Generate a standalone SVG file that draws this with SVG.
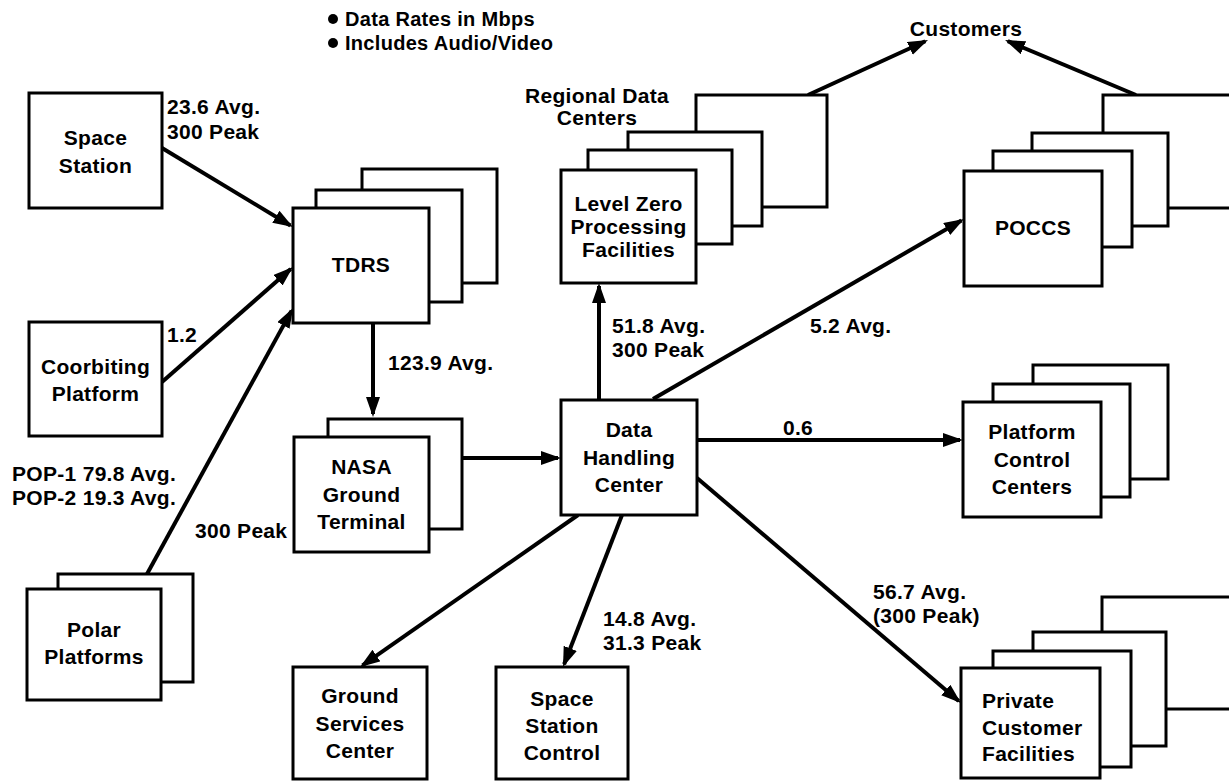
<svg xmlns="http://www.w3.org/2000/svg" width="1229" height="781" viewBox="0 0 1229 781">
<style>
.b{fill:#fff;stroke:#000;stroke-width:3}
.t{font-family:"Liberation Sans",Arial,sans-serif;font-weight:bold;font-size:21px;fill:#000;letter-spacing:0.3px}
.m{text-anchor:middle}
.c{fill:none;stroke:#000;stroke-width:4}
</style>
<defs>
<marker id="ah" markerUnits="userSpaceOnUse" markerWidth="22" markerHeight="16" refX="17" refY="7" orient="auto">
<path d="M0,0 L20,7 L0,14 z" fill="#000"/>
</marker>
</defs>
<rect width="1229" height="781" fill="#fff"/>

<g id="legend">
<circle cx="333" cy="19" r="5"/>
<text class="t" x="345" y="26" style="font-size:20px">Data Rates in Mbps</text>
<circle cx="333" cy="43" r="5"/>
<text class="t" x="345" y="50" style="font-size:20px">Includes Audio/Video</text>
</g>

<g id="connectors">
<line class="c" x1="162" y1="148" x2="290.4" y2="225.5" marker-end="url(#ah)"/>
<line class="c" x1="162" y1="382" x2="290.7" y2="269" marker-end="url(#ah)"/>
<line class="c" x1="147" y1="574" x2="291.6" y2="310.6" marker-end="url(#ah)"/>
<line class="c" x1="373" y1="323" x2="373" y2="414" marker-end="url(#ah)"/>
<line class="c" x1="462" y1="458" x2="558" y2="458" marker-end="url(#ah)"/>
<line class="c" x1="599" y1="400" x2="599" y2="286" marker-end="url(#ah)"/>
<line class="c" x1="653" y1="399" x2="961.4" y2="220.5" marker-end="url(#ah)"/>
<line class="c" x1="697" y1="440" x2="960" y2="440" marker-end="url(#ah)"/>
<line class="c" x1="697" y1="478" x2="958.7" y2="701" marker-end="url(#ah)"/>
<line class="c" x1="578" y1="515" x2="362.5" y2="665.3" marker-end="url(#ah)"/>
<line class="c" x1="622" y1="515" x2="564.1" y2="664.2" marker-end="url(#ah)"/>
<line class="c" x1="808" y1="95" x2="925.3" y2="41.3" marker-end="url(#ah)"/>
<line class="c" x1="1136" y1="95" x2="1007.8" y2="41.2" marker-end="url(#ah)"/>
</g>

<g id="edge-labels">
<text class="t" x="167" y="114">23.6 Avg.</text>
<text class="t" x="167" y="139">300 Peak</text>
<text class="t" x="167" y="342">1.2</text>
<text class="t" x="12" y="481">POP-1 79.8 Avg.</text>
<text class="t" x="12" y="505">POP-2 19.3 Avg.</text>
<text class="t" x="195" y="538">300 Peak</text>
<text class="t" x="388" y="370">123.9 Avg.</text>
<text class="t" x="612" y="333">51.8 Avg.</text>
<text class="t" x="612" y="357">300 Peak</text>
<text class="t" x="810" y="333">5.2 Avg.</text>
<text class="t" x="783" y="435">0.6</text>
<text class="t" x="873" y="599">56.7 Avg.</text>
<text class="t" x="873" y="623">(300 Peak)</text>
<text class="t" x="603" y="626">14.8 Avg.</text>
<text class="t" x="603" y="650">31.3 Peak</text>
</g>

<g id="customers">
<text class="t m" x="966" y="36">Customers</text>
</g>

<g id="space-station">
<rect class="b" x="29" y="93" width="133" height="115"/>
<text class="t m" x="95.5" y="145">Space</text>
<text class="t m" x="95.5" y="173">Station</text>
</g>

<g id="coorbiting-platform">
<rect class="b" x="29" y="322" width="133" height="114"/>
<text class="t m" x="95.5" y="374">Coorbiting</text>
<text class="t m" x="95.5" y="401">Platform</text>
</g>

<g id="polar-platforms">
<rect class="b" x="58" y="574" width="135" height="108"/>
<rect class="b" x="27" y="589" width="134" height="111"/>
<text class="t m" x="94" y="637">Polar</text>
<text class="t m" x="94" y="664">Platforms</text>
</g>

<g id="tdrs">
<rect class="b" x="362" y="169" width="135" height="114"/>
<rect class="b" x="316" y="190" width="146" height="112"/>
<rect class="b" x="293" y="208" width="136" height="115"/>
<text class="t m" x="361" y="272">TDRS</text>
</g>

<g id="nasa-ground-terminal">
<rect class="b" x="328" y="419" width="134" height="110"/>
<rect class="b" x="294" y="437" width="135" height="115"/>
<text class="t m" x="361.5" y="474">NASA</text>
<text class="t m" x="361.5" y="502">Ground</text>
<text class="t m" x="361.5" y="529">Terminal</text>
</g>

<g id="data-handling-center">
<rect class="b" x="561" y="400" width="136" height="115"/>
<text class="t m" x="629" y="437">Data</text>
<text class="t m" x="629" y="465">Handling</text>
<text class="t m" x="629" y="492">Center</text>
</g>

<g id="regional-data-centers">
<text class="t m" x="597" y="103">Regional Data</text>
<text class="t m" x="597" y="125">Centers</text>
<rect class="b" x="696" y="95" width="131" height="112"/>
<rect class="b" x="628" y="132" width="134" height="94"/>
<rect class="b" x="588" y="150" width="144" height="94"/>
<rect class="b" x="561" y="170" width="135" height="113"/>
<text class="t m" x="628.5" y="211">Level Zero</text>
<text class="t m" x="628.5" y="234">Processing</text>
<text class="t m" x="628.5" y="257">Facilities</text>
</g>

<g id="poccs">
<rect class="b" x="1103" y="95" width="140" height="113"/>
<rect class="b" x="1032" y="133" width="136" height="93"/>
<rect class="b" x="993" y="151" width="139" height="96"/>
<rect class="b" x="964" y="171" width="138" height="115"/>
<text class="t m" x="1033" y="235">POCCS</text>
</g>

<g id="platform-control-centers">
<rect class="b" x="1033" y="365" width="135" height="114"/>
<rect class="b" x="993" y="384" width="137" height="113"/>
<rect class="b" x="963" y="402" width="138" height="115"/>
<text class="t m" x="1032" y="439">Platform</text>
<text class="t m" x="1032" y="467">Control</text>
<text class="t m" x="1032" y="494">Centers</text>
</g>

<g id="private-customer-facilities">
<rect class="b" x="1102" y="597" width="140" height="112"/>
<rect class="b" x="1033" y="632" width="133" height="114"/>
<rect class="b" x="993" y="651" width="138" height="116"/>
<rect class="b" x="961" y="668" width="139" height="110"/>
<text class="t" x="982" y="708">Private</text>
<text class="t" x="982" y="735">Customer</text>
<text class="t" x="982" y="761">Facilities</text>
</g>

<g id="ground-services-center">
<rect class="b" x="293" y="667" width="134" height="112"/>
<text class="t m" x="360" y="703">Ground</text>
<text class="t m" x="360" y="731">Services</text>
<text class="t m" x="360" y="758">Center</text>
</g>

<g id="space-station-control">
<rect class="b" x="496" y="667" width="132" height="112"/>
<text class="t m" x="562" y="706">Space</text>
<text class="t m" x="562" y="733">Station</text>
<text class="t m" x="562" y="760">Control</text>
</g>
</svg>
